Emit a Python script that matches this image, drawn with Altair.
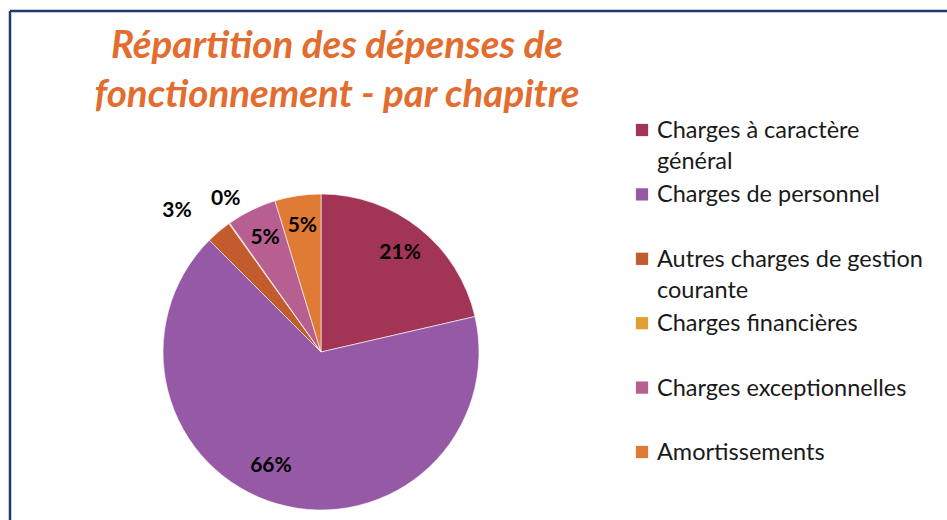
import altair as alt
import pandas as pd

title_lines = ["Répartition des dépenses de", "fonctionnement - par chapitre"]
categories = [
    "Charges à caractère général",
    "Charges de personnel",
    "Autres charges de gestion courante",
    "Charges financières",
    "Charges exceptionnelles",
    "Amortissements",
]
legend_labels = [
    "Charges à caractère\ngénéral",
    "Charges de personnel",
    "Autres charges de gestion\ncourante",
    "Charges financières",
    "Charges exceptionnelles",
    "Amortissements",
]
values = [21.4, 66.1, 2.6, 0.1, 5.1, 4.7]
colors = ["#A23455", "#9559A6", "#C25B2E", "#E0A030", "#B85F92", "#E07B35"]

df = pd.DataFrame({
    "cat": categories,
    "legend": legend_labels,
    "value": values,
    "idx": list(range(len(categories))),
})
title_df = pd.DataFrame({"t": ["\n".join(title_lines)]})

CX, CY = 311, 341  # pie centre in view coordinates
R = 158

color = alt.Color("cat:N", scale=alt.Scale(domain=categories, range=colors), legend=None)
theta = alt.Theta("value:Q", stack=True)
order = alt.Order("idx:Q")

base = alt.Chart(df).transform_calculate(
    label="format(datum.value/100, '.0%')"
)

pie = base.mark_arc(radius=R, stroke="white", strokeWidth=0.6).encode(
    theta=theta, color=color, order=order,
    x=alt.value(CX), y=alt.value(CY),
)

lab_font = dict(font="Lato", fontSize=21, fontWeight="bold", color="black")


def label_layer(cond, **kw):
    return base.mark_text(**lab_font, **kw).encode(
        theta=theta, order=order, text="label:N",
        x=alt.value(CX), y=alt.value(CY),
        opacity=alt.condition(cond, alt.value(1), alt.value(0)),
    )


inside = label_layer("datum.value >= 4 && datum.idx != 1", radius=127)
big = label_layer("datum.idx == 1", radius=127, dx=-15, dy=-8)
out3 = label_layer("datum.idx == 2", radius=190, dx=-21, dy=4)
out0 = label_layer("datum.idx == 3", radius=190, dx=15, dy=2)

ly = alt.Y("idx:O", scale=alt.Scale(type="point", range=[119, 441], padding=0), axis=None)

leg_sq = base.mark_square(size=150, opacity=1).encode(
    x=alt.value(632), y=ly, color=color,
)
leg_tx = base.mark_text(
    align="left", baseline="alphabetic", dy=8, font="Lato", fontSize=23.5,
    lineHeight=31, lineBreak="\n", color="#1a1a1a",
).encode(x=alt.value(647), y=ly, text="legend:N")

title = alt.Chart(title_df).mark_text(
    font="Lato", fontSize=38.5, fontWeight="bold", fontStyle="italic",
    color="#E36C2F", align="center", baseline="alphabetic",
    lineHeight=49, lineBreak="\n",
).encode(x=alt.value(327), y=alt.value(47), text="t:N")

frame_top = alt.Chart(title_df).mark_rule(color="#1F3A6E", strokeWidth=2.5).encode(
    x=alt.value(0), x2=alt.value(940), y=alt.value(0)
)
frame_left = alt.Chart(title_df).mark_rule(color="#1F3A6E", strokeWidth=2.5).encode(
    x=alt.value(0), y=alt.value(0), y2=alt.value(512)
)

chart = alt.layer(
    frame_top, frame_left, pie, inside, big, out3, out0, leg_sq, leg_tx, title
).properties(
    width=937, height=509,
    padding={"left": 10, "top": 11, "right": 0, "bottom": 0},
    autosize=alt.AutoSizeParams(type="none"),
).configure_view(stroke=None)

chart.save("out.html", embed_options={"renderer": "svg", "actions": False})
